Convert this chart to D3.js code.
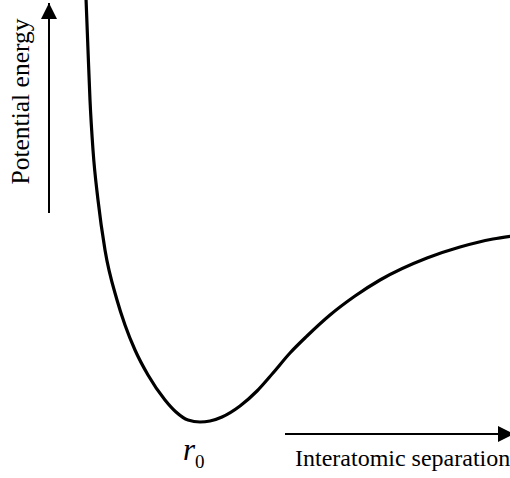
<!DOCTYPE html>
<html><head><meta charset="utf-8">
<script src="https://cdn.jsdelivr.net/npm/d3@7"></script>
<style>body{margin:0;background:#fff}svg{display:block}</style>
</head><body>
<script>
// separation (arbitrary units) and potential energy (arbitrary units)
const separation = [0.86,0.88,0.90,0.93,0.98,1.05,1.17,1.25,1.35,1.48,1.65,1.76,1.88,2.00,2.10,2.22,2.40,2.57,2.73,2.90,3.07,3.30,3.55,3.80,4.27,4.60,4.93,5.12];
const energy     = [4.80,4.28,3.78,3.28,2.78,2.28,1.78,1.53,1.28,1.03,0.78,0.66,0.58,0.56,0.57,0.61,0.72,0.87,1.05,1.25,1.42,1.63,1.82,1.98,2.20,2.31,2.39,2.42];
const yLabel = "Potential energy";
const xLabel = "Interatomic separation";
const minLabel = "r";
const minSub = "0";

const W = 510, H = 478;
const serif = "'Liberation Serif','Times New Roman','DejaVu Serif',serif";
const x = d3.scaleLinear().domain([0, 5.1]).range([0, W]);
const y = d3.scaleLinear().domain([0, 4.78]).range([H, 0]);

const svg = d3.select("body").append("svg").attr("width", W).attr("height", H);
svg.append("defs").append("marker").attr("id","ah")
  .attr("viewBox","0 0 10 10").attr("refX",10).attr("refY",5)
  .attr("markerUnits","userSpaceOnUse").attr("markerWidth",16).attr("markerHeight",18)
  .attr("orient","auto")
  .append("path").attr("d","M0,0 L10,5 L0,10 Z").attr("fill","#000");

const pts = separation.map((s,i)=>[s, energy[i]]);
svg.append("path").datum(pts)
  .attr("d", d3.line().x(d=>x(d[0])).y(d=>y(d[1])).curve(d3.curveMonotoneX))
  .attr("fill","none").attr("stroke","#000").attr("stroke-width",3.2);

// y arrow
svg.append("line").attr("x1",49).attr("x2",49).attr("y1",213).attr("y2",3)
  .attr("stroke","#000").attr("stroke-width",2).attr("marker-end","url(#ah)");
svg.append("text").attr("transform","translate(29,101.5) rotate(-90)")
  .attr("text-anchor","middle").style("font-family",serif)
  .style("font-size","25.5px").text(yLabel);

// x arrow
svg.append("line").attr("x1",285).attr("x2",514).attr("y1",434).attr("y2",434)
  .attr("stroke","#000").attr("stroke-width",2).attr("marker-end","url(#ah)");
svg.append("text").attr("x",295).attr("y",466)
  .style("font-family",serif).style("font-size","24px").text(xLabel);

// r0
const t = svg.append("text").attr("x",183).attr("y",460).style("font-family",serif);
t.append("tspan").style("font-style","italic").style("font-size","31px").text(minLabel);
t.append("tspan").style("font-size","19px").attr("dy",8).text(minSub);
</script>
</body></html>
